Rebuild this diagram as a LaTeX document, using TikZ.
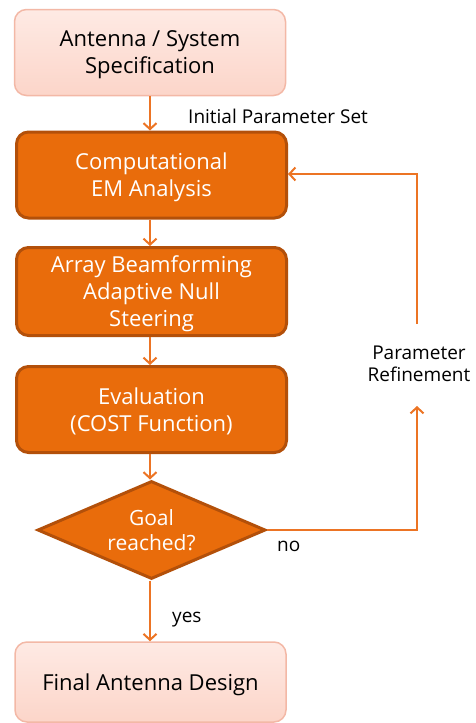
\documentclass[tikz,border=0pt]{standalone}
\usepackage{fontspec}
\setmainfont{Open Sans}
\usetikzlibrary{arrows.meta,shapes.geometric}
\definecolor{orfill}{HTML}{E96C0B}
\definecolor{ordraw}{HTML}{B3500A}
\definecolor{arr}{HTML}{EC7424}
\definecolor{pinktop}{HTML}{FEEAE4}
\definecolor{pinkbot}{HTML}{FCD5C9}
\definecolor{pinkdraw}{HTML}{F3B8A6}
\tikzset{
  darkbox/.style={draw=ordraw, line width=3pt, fill=orfill, rounded corners=12pt,
    text=white, align=center, minimum width=270pt, inner sep=0pt, text depth=0pt,
    font=\fontsize{22}{27}\selectfont},
  lightbox/.style={draw=pinkdraw, line width=1.5pt, top color=pinktop, bottom color=pinkbot, rounded corners=12pt,
    text=black, align=center, minimum width=271pt, inner sep=0pt, text depth=0pt,
    font=\fontsize{22}{27}\selectfont},
  decision/.style={diamond, aspect=2.31, draw=ordraw, line width=3pt, fill=orfill, text=white,
    align=center, inner sep=0pt, font=\fontsize{21}{25}\selectfont},
  conn/.style={draw=arr, line width=2pt, -{Straight Barb[length=6pt,width=13pt,line width=2pt]}},
  lab/.style={font=\fontsize{19}{22}\selectfont, text=black, align=center, inner sep=0pt}
}
\begin{document}
\begin{tikzpicture}[x=1pt,y=-1pt]
\useasboundingbox (0,0) rectangle (476,723);
\node[lightbox, minimum height=86pt] (spec) at (150,52.5) {Antenna / System\\Specification};
\node[darkbox, minimum height=86pt] (em) at (151.5,175) {Computational\\EM Analysis};
\node[darkbox, minimum height=88pt] (bf) at (151.5,291.5) {Array Beamforming\\Adaptive Null\\Steering};
\node[darkbox, minimum height=86pt] (ev) at (151.5,409.5) {Evaluation\\(COST Function)};
\node[decision, minimum width=228pt, minimum height=98pt] (goal) at (151.5,530) {Goal\\reached?};
\node[lightbox, minimum height=80pt] (final) at (150.5,682) {Final Antenna Design};
\coordinate (c1) at (417,530);
\coordinate (c2) at (417,406);
\coordinate (c3) at (417,324);
\coordinate (c4) at (417,174);
\draw[conn] (spec.south -| 150,0) -- (em.north -| 150,0);
\draw[conn] (em.south -| 150,0) -- (bf.north -| 150,0);
\draw[conn] (bf.south -| 150,0) -- (ev.north -| 150,0);
\draw[conn] (ev.south -| 150,0) -- (goal.north -| 150,0);
\draw[conn] (goal.south -| 150,0) -- (final.north -| 150,0);
\draw[conn] (goal.east) -- (c1) -- (c2);
\draw[conn] (c3) -- (c4) -- (em.east |- c4);
\node[lab, anchor=west] (ips) at (188,116) {Initial Parameter Set};
\node[lab] (pr) at (419,364) {Parameter\\Refinement};
\node[lab, anchor=west] (no) at (277,546) {no};
\node[lab, anchor=west] (yes) at (172,620) {yes};
\end{tikzpicture}
\end{document}
